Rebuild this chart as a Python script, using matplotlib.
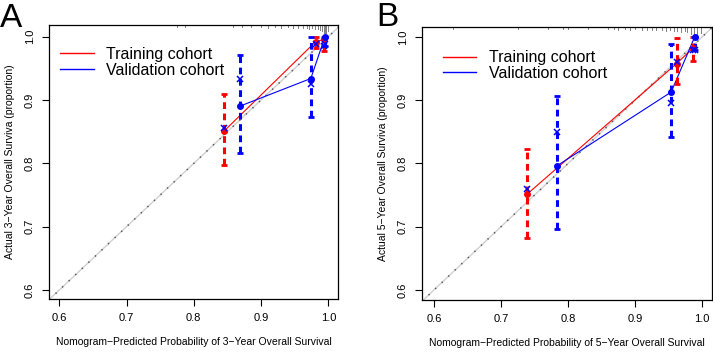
import matplotlib.pyplot as plt
from matplotlib.lines import Line2D
import matplotlib.transforms as mtransforms

plt.rcParams['font.family'] = ['Liberation Sans', 'DejaVu Sans']

# Panel A: 3-year calibration
a_train_x = [0.845, 0.981, 0.994]
a_train_y = [0.851, 0.992, 0.996]
a_train_lo = [0.798, 0.982, 0.977]
a_train_hi = [0.909, 1.0, 1.0]
a_train_corr = [0.856, 0.988, 0.986]

a_valid_x = [0.869, 0.974, 0.995]
a_valid_y = [0.8905, 0.934, 1.0]
a_valid_lo = [0.816, 0.874, 0.985]
a_valid_hi = [0.971, 1.0, 1.0]
a_valid_corr = [0.933, 0.926, 0.988]

# predicted-value rug along the top edge
a_rug = [0.775, 0.787, 0.858, 0.872, 0.885, 0.90, 0.91, 0.92, 0.93, 0.94,
         0.948, 0.955, 0.962, 0.968, 0.972, 0.976, 0.98, 0.984, 0.988,
         0.991, 0.993, 0.995, 0.997, 0.999]
a_rug_h = [2, 2, 2, 2, 2, 2, 3, 2, 3, 2, 3, 3, 3, 3, 4, 3, 4, 4, 5,
           6, 8, 9, 8, 6]

# Panel B: 5-year calibration
b_train_x = [0.739, 0.962, 0.987]
b_train_y = [0.7515, 0.958, 0.983]
b_train_lo = [0.682, 0.926, 0.962]
b_train_hi = [0.823, 0.999, 1.0]
b_train_corr = [0.759, 0.9605, 0.979]

b_valid_x = [0.783, 0.954, 0.989]
b_valid_y = [0.796, 0.913, 1.0]
b_valid_lo = [0.696, 0.842, 0.98]
b_valid_hi = [0.907, 0.9895, 1.0]
b_valid_corr = [0.85, 0.895, 0.979]

b_rug = [0.629, 0.725, 0.77, 0.793, 0.80, 0.83, 0.86, 0.868, 0.875, 0.885,
         0.893, 0.90, 0.91, 0.918, 0.925, 0.932, 0.94, 0.946, 0.952, 0.958,
         0.963, 0.968, 0.974, 0.978, 0.984, 0.988, 0.993, 0.998]
b_rug_h = [2, 2, 2, 2, 2, 2, 2, 2, 3, 2, 3, 2, 3, 3, 3, 3, 3, 4, 3, 4,
           4, 5, 4, 5, 7, 8, 7, 6]

labels = ['Training cohort', 'Validation cohort']
ticks = [0.6, 0.7, 0.8, 0.9, 1.0]


def draw_cohort(ax, x, y, lo, hi, corr, col):
    ax.plot(x, y, color=col, lw=0.8, zorder=3)
    ax.vlines(x, lo, hi, colors=col, lw=2.2, linestyles=(0, (2.2, 1.5)), zorder=4)
    ax.plot(x, lo, ls='none', marker='_', color=col, ms=5, mew=2, zorder=4)
    ax.plot(x, hi, ls='none', marker='_', color=col, ms=5, mew=2, zorder=4)
    ax.plot(x, y, ls='none', marker='o', color=col, ms=4, zorder=5)
    ax.plot(x, corr, ls='none', marker='x', color='blue', ms=4.5, mew=1.1, zorder=5)


def draw_panel(ax, xlim, ylim, rug, rug_h, train, valid, year, leg_xy):
    lo_d = min(xlim[0], ylim[0])
    hi_d = max(xlim[1], ylim[1])
    ax.plot([lo_d, hi_d], [lo_d, hi_d], color='#d0d0d0', lw=1.0, zorder=1)
    ax.plot([lo_d, hi_d], [lo_d, hi_d], color='#555555', lw=1.1,
            ls=(0, (0.9, 5.0)), zorder=1)

    trans = mtransforms.blended_transform_factory(ax.transData, ax.transAxes)
    for v, h in zip(rug, rug_h):
        ax.plot([v, v], [1.0, 1.0 - h / 274.0], color='#808080', lw=0.7,
                transform=trans, zorder=2)

    draw_cohort(ax, *train, 'red')
    draw_cohort(ax, *valid, 'blue')

    ax.set_xlim(xlim)
    ax.set_ylim(ylim)
    ax.set_xticks(ticks)
    ax.set_yticks(ticks)
    ax.set_xticklabels(['0.6', '0.7', '0.8', '0.9', '1.0'])
    ax.set_yticklabels(['0.6', '0.7', '0.8', '0.9', '1.0'], rotation=90, va='center')
    ax.tick_params(direction='out', length=5, width=0.8, labelsize=8, pad=5)
    for s in ax.spines.values():
        s.set_linewidth(0.9)
    ax.set_xlabel('Nomogram\u2212Predicted Probability of %d\u2212Year Overall Survival' % year,
                  fontsize=7.5, labelpad=10)
    ax.set_ylabel('Actual %d\u2212Year Overall Surviva (proportion)' % year,
                  fontsize=7.5, labelpad=7)

    handles = [Line2D([], [], color='red', lw=1), Line2D([], [], color='blue', lw=1)]
    ax.legend(handles, labels, loc='upper left', bbox_to_anchor=leg_xy,
              frameon=False, fontsize=11.5, handlelength=2.1, handletextpad=0.8,
              labelspacing=0.05, borderpad=0, borderaxespad=0)


fig = plt.figure(figsize=(7.13, 3.53), dpi=100)
W, H = 713.0, 353.0

ax1 = fig.add_axes([49 / W, 1 - 299 / H, 289 / W, 274 / H])
draw_panel(ax1, (0.5847, 1.0144), (0.5858, 1.0185), a_rug, a_rug_h,
           (a_train_x, a_train_y, a_train_lo, a_train_hi, a_train_corr),
           (a_valid_x, a_valid_y, a_valid_lo, a_valid_hi, a_valid_corr), 3,
           (0.038, 0.92))

ax2 = fig.add_axes([422 / W, 1 - 300 / H, 290 / W, 273 / H])
draw_panel(ax2, (0.582, 1.015), (0.584, 1.016), b_rug, b_rug_h,
           (b_train_x, b_train_y, b_train_lo, b_train_hi, b_train_corr),
           (b_valid_x, b_valid_y, b_valid_lo, b_valid_hi, b_valid_corr), 5,
           (0.072, 0.915))

fig.text(0 / W, 1 - 27 / H, 'A', fontsize=24, ha='left', va='baseline')
fig.text(376 / W, 1 - 26 / H, 'B', fontsize=24, ha='left', va='baseline')

fig.savefig('out.png', dpi=100)
